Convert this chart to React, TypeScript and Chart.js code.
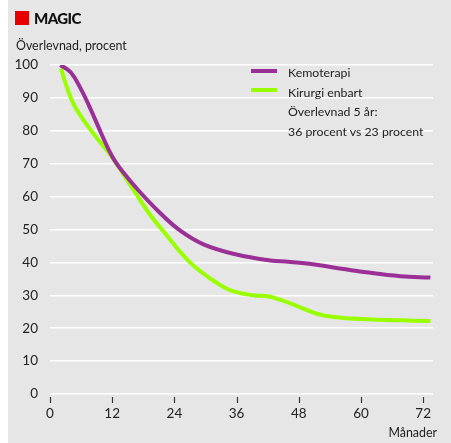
import React, { useEffect, useRef } from "react";
import { Chart, registerables } from "chart.js";

Chart.register(...registerables);

const titleText = "MAGIC";
const yAxisTitle = "Överlevnad, procent";
const xAxisTitle = "Månader";
const seriesNames = ["Kemoterapi", "Kirurgi enbart"];
const noteLines = ["Överlevnad 5 år:", "36 procent vs 23 procent"];

const xTicks = [0, 12, 24, 36, 48, 60, 72];
const yTicks = [0, 10, 20, 30, 40, 50, 60, 70, 80, 90, 100];

const kemoMonths = [2, 4, 6, 8, 10, 12, 14, 17, 21, 25, 29.6, 36, 42.5, 46, 50, 55, 61, 67.6, 73.4];
const kemoValues = [100, 97.8, 92.6, 86, 78.8, 72.2, 67.6, 62, 55.4, 49.8, 45.5, 42.4, 40.6, 40.2, 39.6, 38.4, 37, 35.8, 35.4];

const kirurgiMonths = [2.1, 3.2, 4.5, 6.4, 9, 11.6, 14.2, 16.7, 19.3, 21.9, 27, 31.5, 34.7, 39.2, 42, 44.5, 47.6, 51.5, 54.7, 61.1, 67.6, 73.4];
const kirurgiValues = [99, 93.5, 88.3, 83.4, 77.9, 72.8, 66.7, 60.6, 54.5, 49.4, 40, 34.5, 31.6, 30, 29.7, 28.6, 26.8, 24.4, 23.4, 22.7, 22.4, 22.2];

const PURPLE = "#9a3096";
const GREEN = "#99ff00";
const BG = "#e6e6e6";
const FONT = "Lato, 'Noto Sans', sans-serif";
const TEXT = "#222";

const tickMarks = {
  id: "tickMarks",
  afterDraw(chart: any) {
    const x = chart.scales.x;
    const ctx = chart.ctx;
    const bottom = chart.chartArea.bottom;
    ctx.save();
    ctx.strokeStyle = "#333";
    ctx.lineWidth = 1.2;
    xTicks.forEach((t) => {
      const px = Math.round(x.getPixelForValue(t)) + 0.5;
      ctx.beginPath();
      ctx.moveTo(px, bottom + 3);
      ctx.lineTo(px, bottom + 9);
      ctx.stroke();
    });
    ctx.restore();
  },
};

export default function App() {
  const ref = useRef<HTMLCanvasElement | null>(null);

  useEffect(() => {
    if (!ref.current) return;
    const chart = new Chart(ref.current, {
      type: "line",
      data: {
        datasets: [
          {
            label: seriesNames[0],
            data: kemoMonths.map((m, i) => ({ x: m, y: kemoValues[i] })),
            borderColor: PURPLE,
            borderWidth: 4,
            pointRadius: 0,
            tension: 0.4,
            fill: false,
          },
          {
            label: seriesNames[1],
            data: kirurgiMonths.map((m, i) => ({ x: m, y: kirurgiValues[i] })),
            borderColor: GREEN,
            borderWidth: 4,
            pointRadius: 0,
            tension: 0.4,
            fill: false,
          },
        ],
      },
      options: {
        animation: false,
        responsive: false,
        maintainAspectRatio: false,
        layout: { padding: { top: 65, right: 18, bottom: 0, left: 0 } },
        plugins: { legend: { display: false }, tooltip: { enabled: false } },
        scales: {
          x: {
            type: "linear",
            min: 0,
            max: 73.9,
            afterBuildTicks: (s: any) => {
              s.ticks = xTicks.map((v) => ({ value: v }));
            },
            afterFit: (s: any) => {
              s.height = 49;
            },
            border: { display: false },
            grid: {
              drawOnChartArea: false,
              drawTicks: true,
              tickLength: 9,
              tickColor: "rgba(0,0,0,0)",
            },
            ticks: {
              color: TEXT,
              font: { family: FONT, size: 13.5 },
              padding: 3,
              maxRotation: 0,
            },
          },
          y: {
            type: "linear",
            min: 0,
            max: 100,
            afterBuildTicks: (s: any) => {
              s.ticks = yTicks.map((v) => ({ value: v }));
            },
            afterFit: (s: any) => {
              s.width = 42;
            },
            border: { display: false },
            grid: {
              color: "#ffffff",
              lineWidth: 1.5,
              drawTicks: false,
            },
            ticks: {
              color: TEXT,
              font: { family: FONT, size: 13.5 },
              padding: 12,
            },
          },
        },
      },
      plugins: [tickMarks],
    });
    return () => chart.destroy();
  }, []);

  const abs = (s: React.CSSProperties): React.CSSProperties => ({ position: "absolute", ...s });

  return (
    <div
      style={{
        position: "absolute",
        left: 8,
        top: 0,
        width: 443,
        height: 443,
        background: BG,
        fontFamily: FONT,
        color: TEXT,
      }}
    >
      <canvas ref={ref} width={443} height={443} style={{ position: "absolute", left: 0, top: 0 }} />
      <div style={abs({ left: 7, top: 11, width: 14, height: 14, background: "#e60000" })} />
      <div
        style={abs({
          left: 26,
          top: 8,
          fontSize: 15,
          fontWeight: 900,
          letterSpacing: -0.6,
          lineHeight: "20px",
          color: "#111",
        })}
      >
        {titleText}
      </div>
      <div style={abs({ left: 8, top: 37, fontSize: 12.4, lineHeight: "17px" })}>{yAxisTitle}</div>
      <div style={abs({ left: 243, top: 69, width: 26, height: 4, background: PURPLE })} />
      <div style={abs({ left: 243, top: 88, width: 26, height: 4, background: GREEN })} />
      <div style={abs({ left: 280, top: 63, fontSize: 12.3, lineHeight: "19.5px" })}>
        <div>{seriesNames[0]}</div>
        <div>{seriesNames[1]}</div>
        <div>{noteLines[0]}</div>
        <div>{noteLines[1]}</div>
      </div>
      <div style={abs({ right: 14, top: 424, fontSize: 12.4, lineHeight: "17px" })}>{xAxisTitle}</div>
    </div>
  );
}
